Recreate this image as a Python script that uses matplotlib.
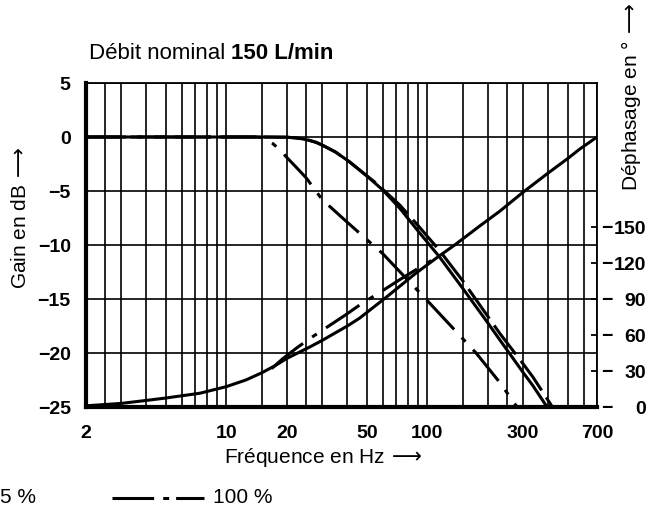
import matplotlib
matplotlib.use('Agg')
import matplotlib.pyplot as plt
from matplotlib import transforms
from matplotlib.lines import Line2D

plt.rcParams['lines.scale_dashes'] = False
plt.rcParams['font.family'] = ['Liberation Sans', 'DejaVu Sans']
plt.rcParams['mathtext.fontset'] = 'dejavusans'

ARROW = r'$\,\longrightarrow$'

# Gain curves (dB) vs frequency (Hz)
freq_gain_solid = [2, 15, 20, 22, 24, 26, 28, 30, 35, 41, 50, 60, 73, 90, 115, 150, 200, 230,
                   300, 335, 395]
gain_solid = [0, 0, -0.02, -0.08, -0.18, -0.32, -0.5, -0.75, -1.4, -2.3, -3.6, -4.9, -6.6, -8.7,
              -11.1, -14.0, -17.2, -18.8, -21.8, -23.0, -25.0]

freq_gain_dash = [2, 15, 20, 22, 24, 26, 28, 30, 35, 41, 50, 55, 73, 90, 115, 150, 200, 230,
                  300, 335, 420]
gain_dash = [0, 0, -0.02, -0.08, -0.18, -0.32, -0.5, -0.75, -1.4, -2.3, -3.6, -4.2, -6.3, -8.2,
             -10.5, -13.3, -16.6, -18.2, -21.0, -22.2, -25.0]

freq_gain_dashdot = [2, 14, 15, 16, 17, 18.5, 20, 22, 25, 30, 40, 60, 103, 175, 229, 280]
gain_dashdot = [0, 0, -0.05, -0.25, -0.6, -1.2, -1.9, -2.7, -3.8, -5.8, -7.9, -10.8, -15.4,
                -20.0, -22.7, -25.0]

# Phase curves (degrees) vs frequency (Hz)
freq_phase_solid = [2, 3, 4, 5, 7.4, 10, 12.5, 15, 17.5, 20, 26, 30, 33, 40, 46, 62, 87, 115,
                    137, 183, 229, 300, 400, 500, 575, 700]
phase_solid = [1.0, 3.0, 5.5, 7.5, 11.5, 17, 22.5, 28.5, 34.5, 40.5, 50, 55.5, 59.5, 67.5, 74,
               91, 111, 126, 135, 151, 163, 179, 195, 207, 215, 225]

freq_phase_dashdot = [16.8, 19, 22.3, 26, 32, 39, 47, 60, 72, 87, 100, 115]
phase_dashdot = [32, 40, 49, 57, 67, 76.5, 86, 97, 105.5, 114, 120, 126]

grid_freqs = [2, 2.5, 3, 4, 5, 6, 7, 8, 9, 10, 15, 20, 25, 30, 40, 50, 60, 70, 80, 90, 100,
              150, 200, 250, 300, 400, 500, 600, 700]
freq_labels = {2: '2', 10: '10', 20: '20', 50: '50', 100: '100', 300: '300', 700: '700'}
gain_ticks = [5, 0, -5, -10, -15, -20, -25]
phase_ticks = [0, 30, 60, 90, 120, 150]

W, H = 647, 508
fig = plt.figure(figsize=(W / 100, H / 100), dpi=100)

ax = fig.add_axes([86 / W, 1 - 407 / H, 511 / W, 324 / H])
ax.set_xscale('log')
ax.set_xlim(2, 700)
ax.set_ylim(-25, 5)
ax.set_xticks(grid_freqs)
ax.set_xticklabels([freq_labels.get(f, '') for f in grid_freqs])
ax.xaxis.set_minor_locator(matplotlib.ticker.NullLocator())
ax.set_yticks(gain_ticks)
ax.set_yticklabels([str(v).replace('-', '\u2212') for v in gain_ticks])
ax.tick_params(length=0, labelsize=14)
ax.tick_params(axis='x', pad=13)
ax.tick_params(axis='y', pad=11)
for lbl in ax.get_xticklabels() + ax.get_yticklabels():
    lbl.set_fontweight('bold')
ax.grid(True, color='black', linewidth=1.2)
ax.set_axisbelow(True)
for side in ['left', 'bottom']:
    ax.spines[side].set_linewidth(3)
for side in ['top', 'right']:
    ax.spines[side].set_linewidth(1.3)

lw = 2.2
ax.plot(freq_gain_dash, gain_dash, color='black', lw=lw, ls=(0, (26, 6)), zorder=3)
ax.plot(freq_gain_solid, gain_solid, color='black', lw=lw, zorder=4)
ax.plot(freq_gain_dashdot, gain_dashdot, color='black', lw=lw, ls=(0, (29, 8, 4, 8)), zorder=3)

# phase on a second axis, 0..270 deg over the same height
ax2 = ax.twinx()
ax2.set_ylim(0, 270)
ax2.set_yticks(phase_ticks)
ax2.tick_params(axis='y', direction='in', length=4, width=1.3, labelright=False)
for s in ax2.spines.values():
    s.set_visible(False)
ax2.plot(freq_phase_solid, phase_solid, color='black', lw=lw, zorder=4)
ax2.plot(freq_phase_dashdot, phase_dashdot, color='black', lw=lw, ls=(0, (29, 8, 4, 8)), zorder=3)

tr = transforms.blended_transform_factory(fig.transFigure, ax2.transData)
for v in phase_ticks:
    fig.text(601 / W, v, '\u2212', transform=tr, ha='left', va='center_baseline',
             fontsize=14, fontweight='bold')
    fig.text(646 / W, v, str(v), transform=tr, ha='right', va='center_baseline',
             fontsize=14, fontweight='bold')

# axis titles
fig.text(323 / W, 1 - 463 / H, 'Fréquence en Hz' + ARROW, ha='center', va='baseline', fontsize=15)
fig.text(21 / W, 1 - 218 / H, 'Gain en dB' + ARROW, rotation=90, ha='center', va='center',
         fontsize=15)
fig.text(631 / W, 1 - 97 / H, 'Déphasage en °' + ARROW, rotation=90, ha='center', va='center',
         fontsize=15)

t1 = fig.text(89 / W, 1 - 59 / H, 'Débit nominal', ha='left', va='baseline', fontsize=16)
fig.canvas.draw()
bb = t1.get_window_extent()
fig.text((bb.x1 + 6) / W, 1 - 59 / H, '150 L/min', ha='left', va='baseline',
         fontsize=16, fontweight='bold')

# legend row
fig.text(0, 1 - 503 / H, '5 %', ha='left', va='baseline', fontsize=15)
fig.add_artist(Line2D([112 / W, 204 / W], [1 - 498 / H, 1 - 498 / H], color='black', lw=lw,
                      ls=(0, (30, 6.5, 4.3, 5)), transform=fig.transFigure))
fig.text(213 / W, 1 - 503 / H, '100 %', ha='left', va='baseline', fontsize=15)

fig.savefig('out.png', dpi=100)
